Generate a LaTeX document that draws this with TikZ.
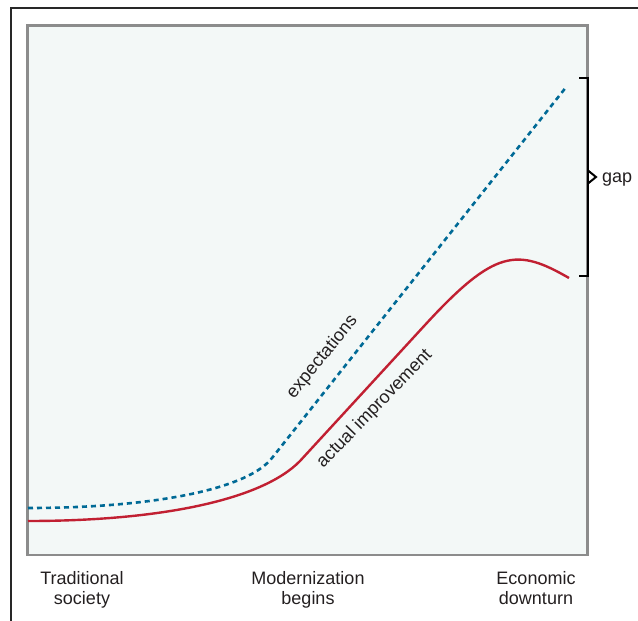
\documentclass[tikz,border=0pt]{standalone}
\usepackage{fontspec}
\setmainfont{Liberation Sans}
\definecolor{expblue}{RGB}{0,106,150}
\definecolor{actred}{RGB}{193,32,50}
\definecolor{panelbg}{RGB}{243,248,247}
\definecolor{panelframe}{RGB}{140,140,140}
\definecolor{txtcol}{RGB}{35,31,32}
\definecolor{outerframe}{RGB}{40,40,40}
\begin{document}
\begin{tikzpicture}[x=1pt,y=-1pt,
  lab/.style={font=\fontsize{18}{19.5}\selectfont, text=txtcol, align=center, inner sep=0pt, anchor=north},
  curvelab/.style={font=\fontsize{18}{20}\selectfont, text=txtcol, inner sep=0pt},
  expline/.style={draw=expblue, line width=2.6pt, dash pattern=on 5pt off 4pt},
  actline/.style={draw=actred, line width=2.4pt},
  bracketline/.style={draw=black, line width=2pt}]
\useasboundingbox (0,0) rectangle (638,621);
% outer frame (left and top edges)
\draw[outerframe, line width=1.4pt] (11,621) -- (11,8) -- (638,8);
% panel
\draw[fill=panelbg, draw=panelframe, line width=2.6pt] (27.5,25.5) rectangle (587.5,555);
% expectations (dashed)
\coordinate (e0) at (28,508);
\coordinate (e1) at (272,458);
\coordinate (e2) at (567,86);
\draw[expline] (e0) .. controls (150,508) and (247,490) .. (e1) -- (e2);
% actual improvement (solid)
\coordinate (a0) at (28,521);
\coordinate (a1) at (300,461);
\coordinate (a2) at (425,325);
\coordinate (a3) at (569,278);
\draw[actline] (a0) .. controls (160,521) and (262,500) .. (a1) -- (a2)
  .. controls (495,248.8) and (517,248) .. (a3);
% gap bracket
\coordinate (bt) at (579,78);
\coordinate (bb) at (579,276);
\draw[bracketline] (bt) -- (588,78) -- (588,276) -- (bb);
\draw[bracketline] (588,170.5) -- (596,177) -- (588,183.5);
\node[curvelab, anchor=base west] (gap) at (602,182) {gap};
% curve labels
\node[curvelab, rotate=51, anchor=base] (exp) at (326,360) {expectations};
\node[curvelab, rotate=46, anchor=base] (act) at (378,412) {actual improvement};
% axis labels
\node[lab] (trad) at (82,571.5) {Traditional\\society};
\node[lab] (mod) at (308,571.5) {Modernization\\begins};
\node[lab] (econ) at (536,571.5) {Economic\\downturn};
\end{tikzpicture}
\end{document}
